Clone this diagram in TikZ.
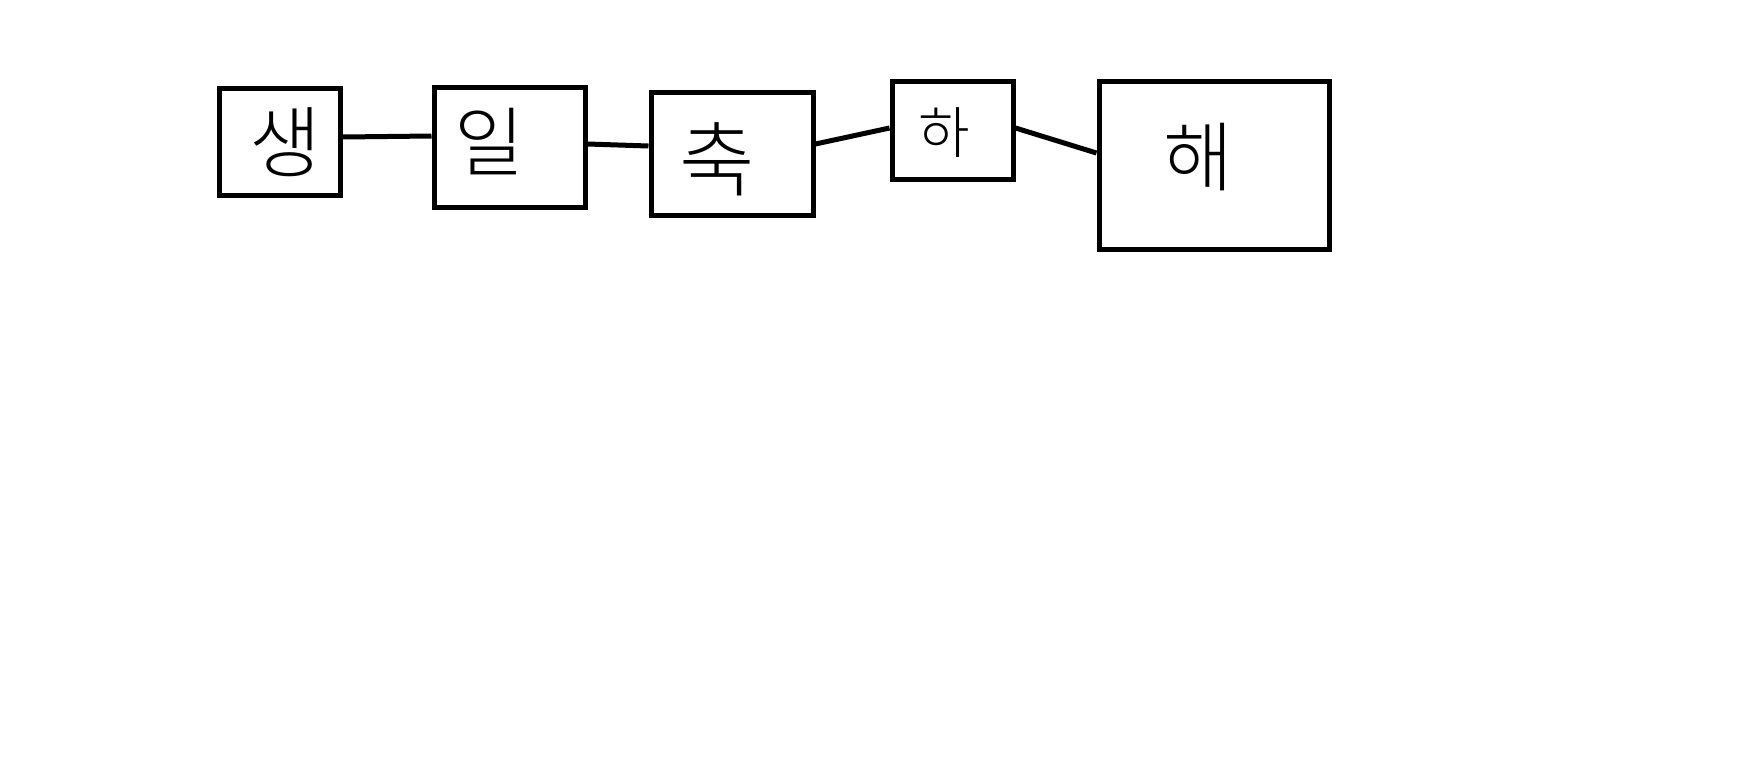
\documentclass[tikz,border=0pt]{standalone}
\usepackage{fontspec}
\newfontfamily\kr{Noto Sans CJK KR}[UprightFont={* Light}]
\begin{document}
\begin{tikzpicture}[x=1pt,y=-1pt,
  box/.style={draw=black, line width=5pt, inner sep=0pt, fill=white},
  conn/.style={draw=black, line width=5pt},
  glyph/.style={inner sep=0pt, font=\kr, text=black}]
\useasboundingbox (0,0) rectangle (1764,782);
\fill[white] (0,0) rectangle (1764,782);
\node[box, minimum width=121pt, minimum height=107pt] (b1) at (279.5,141.5) {};
\node[box, minimum width=151pt, minimum height=120pt] (b2) at (509.5,147) {};
\node[box, minimum width=162pt, minimum height=123pt] (b3) at (732,153.5) {};
\node[box, minimum width=121pt, minimum height=98pt] (b4) at (952.5,130) {};
\node[box, minimum width=230pt, minimum height=168pt] (b5) at (1214,165) {};
\node[glyph, font=\kr\fontsize{78}{80}\selectfont] (t1) at (285,142) {생};
\node[glyph, font=\kr\fontsize{76}{78}\selectfont] (t2) at (489,142) {일};
\node[glyph, font=\kr\fontsize{82}{84}\selectfont] (t3) at (717,159) {축};
\node[glyph, font=\kr\fontsize{56}{58}\selectfont] (t4) at (944,133) {하};
\node[glyph, font=\kr\fontsize{76}{78}\selectfont] (t5) at (1198,157) {해};
\draw[conn] ([yshift=4.5pt]b1.east) -- ([yshift=11pt]b2.west);
\draw[conn] ([yshift=3pt]b2.east) -- ([yshift=7.5pt]b3.west);
\draw[conn] ([yshift=9.5pt]b3.east) -- ([yshift=2pt]b4.west);
\draw[conn] ([yshift=2pt]b4.east) -- ([yshift=12pt]b5.west);
\end{tikzpicture}
\end{document}
